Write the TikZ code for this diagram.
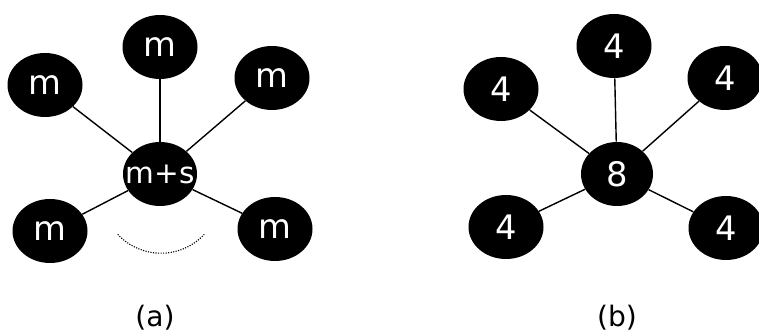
\documentclass[tikz,border=0pt]{standalone}
\usepackage{fontspec}
\setmainfont{DejaVu Sans}
\usepackage{tikz}
\usetikzlibrary{shapes}

\begin{document}
\begin{tikzpicture}[
  krog/.style={ellipse,fill=black,text=white,inner sep=0pt,
    minimum width=1.875cm,minimum height=1.6cm,
    font=\fontsize{24}{28}\selectfont},
  povezava/.style={line width=1pt}]
\useasboundingbox (0,0) rectangle (18.975,8.375);
% (a) -- sredisce in pet sosedov
\node[krog,minimum width=1.85cm,font=\fontsize{21}{25}\selectfont] (a_c) at (4.0,4.025) {\makebox[0pt]{m+s}};
\foreach \x/\y [count=\i] in {4.0/7.2, 1.125/6.25, 6.8/6.425, 1.25/2.6, 6.875/2.65} {
  \node[krog] (a_\i) at (\x,\y) {m};
}
\foreach \i in {1,...,5} {
  \draw[povezava] (a_c) -- (a_\i);
}
\coordinate (lok) at (4.025,3.525);
\draw[densely dotted,line width=0.8pt] (lok) ++(-137:1.48) arc[start angle=-137,end angle=-43,radius=1.48];
\node[font=\fontsize{20}{24}\selectfont] (oznaka_a) at (3.875,0.425) {(a)};
% (b) -- isto z vrednostmi
\node[krog,minimum width=1.8cm] (b_c) at (15.425,4.025) {8};
\foreach \x/\y [count=\i] in {15.35/7.225, 12.525/6.15, 18.125/6.425, 12.65/2.7, 18.15/2.675} {
  \node[krog] (b_\i) at (\x,\y) {4};
}
\foreach \i in {1,...,5} {
  \draw[povezava] (b_c) -- (b_\i);
}
\node[font=\fontsize{20}{24}\selectfont] (oznaka_b) at (15.425,0.425) {(b)};
\end{tikzpicture}
\end{document}
